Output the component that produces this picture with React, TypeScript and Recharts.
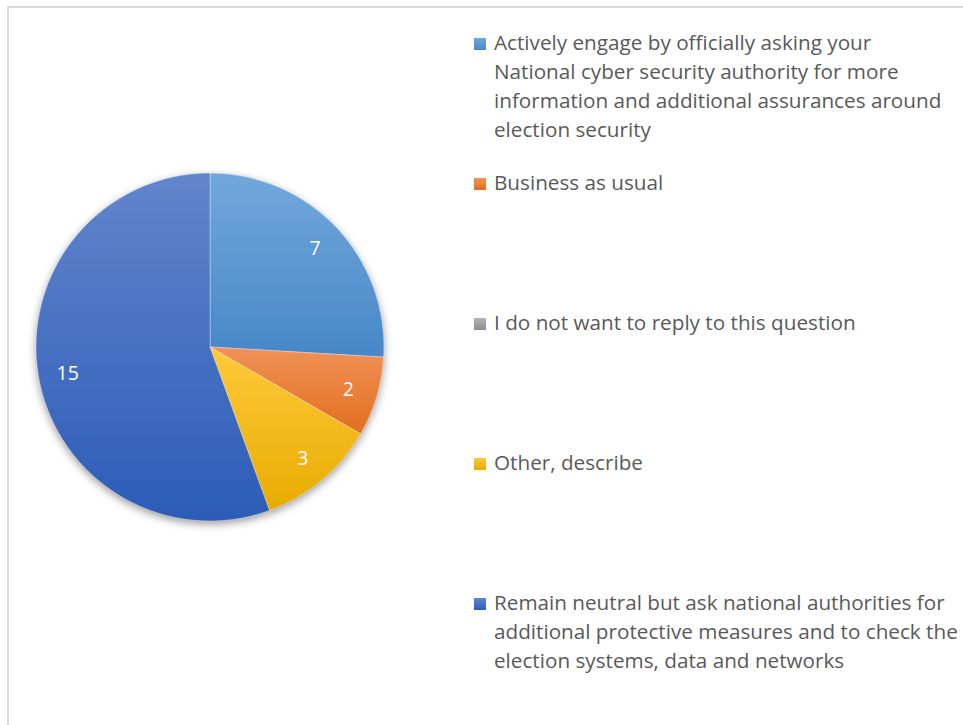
import React from "react";
import { PieChart, Pie, Cell, Legend } from "recharts";

// answers and counts
const categories = [
  "Actively engage by officially asking your National cyber security authority for more information and additional assurances around election security",
  "Business as usual",
  "I do not want to reply to this question",
  "Other, describe",
  "Remain neutral but ask national authorities for additional protective measures and to check the election systems, data and networks",
];
const values = [7, 2, 0, 3, 15];

// legend text as wrapped in the original
const legendLines = [
  [
    "Actively engage by officially asking your",
    "National cyber security authority for more",
    "information and additional assurances around",
    "election security",
  ],
  ["Business as usual"],
  ["I do not want to reply to this question"],
  ["Other, describe"],
  [
    "Remain neutral but ask national authorities for",
    "additional protective measures and to check the",
    "election systems, data and networks",
  ],
];

const gradients = [
  ["#72a8dc", "#4787c7"],
  ["#f19158", "#e26f1d"],
  ["#b4b4b4", "#8f8f8f"],
  ["#ffca3a", "#e8ab00"],
  ["#6285cc", "#2c5cb7"],
];

const data = categories.map((name, i) => ({ name, value: values[i] }));

const RAD = Math.PI / 180;
const FONT = "'Open Sans', Lato, sans-serif";

function renderLabel(props: any) {
  const { cx, cy, midAngle, outerRadius, value } = props;
  if (!value) return null;
  const r = outerRadius * 0.83;
  const x = cx + r * Math.cos(-midAngle * RAD);
  const y = cy + r * Math.sin(-midAngle * RAD);
  return (
    <text
      x={x}
      y={y}
      fill="#ffffff"
      fontSize={19.5}
      fontFamily={FONT}
      textAnchor="middle"
      dominantBaseline="central"
    >
      {value}
    </text>
  );
}

const legendTops = [28, 168, 308, 448, 588];

function renderLegend() {
  return (
    <div style={{ position: "relative", width: 480, height: 725 }}>
      {legendLines.map((lines, i) => (
        <div
          key={i}
          style={{
            position: "absolute",
            left: 0,
            top: legendTops[i],
            fontFamily: FONT,
            fontSize: 20.7,
            lineHeight: "29px",
            color: "#595959",
            whiteSpace: "nowrap",
          }}
        >
          <span
            style={{
              position: "absolute",
              left: 0,
              top: 10,
              width: 12,
              height: 12,
              background: `linear-gradient(${gradients[i][0]}, ${gradients[i][1]})`,
            }}
          />
          <div style={{ marginLeft: 20 }}>
            {lines.map((l, j) => (
              <div key={j}>{l}</div>
            ))}
          </div>
        </div>
      ))}
    </div>
  );
}

export default function App() {
  return (
    <div
      style={{
        position: "fixed",
        left: 0,
        top: 0,
        width: 963,
        height: 725,
        overflow: "hidden",
        background: "#ffffff",
      }}
    >
      <div
        style={{
          position: "absolute",
          left: 7,
          top: 6,
          width: 1000,
          height: 1000,
          border: "2px solid #d9d9d9",
        }}
      />
      <div style={{ position: "absolute", left: 0, top: 0 }}>
        <PieChart width={963} height={725}>
          <defs>
            {gradients.map((g, i) => (
              <linearGradient key={i} id={`g${i}`} x1="0" y1="0" x2="0" y2="1">
                <stop offset="0%" stopColor={g[0]} />
                <stop offset="100%" stopColor={g[1]} />
              </linearGradient>
            ))}
            <filter id="shadow" x="-20%" y="-20%" width="140%" height="140%">
              <feGaussianBlur stdDeviation="4" />
            </filter>
          </defs>
          {/* shadow under the pie */}
          <Pie
            data={data}
            dataKey="value"
            cx={205}
            cy={345}
            outerRadius={174}
            startAngle={90}
            endAngle={-270}
            stroke="none"
            fill="#000000"
            fillOpacity={0.4}
            filter="url(#shadow)"
            legendType="none"
            isAnimationActive={false}
          />
          <Pie
            data={data}
            dataKey="value"
            cx={205}
            cy={342}
            outerRadius={174}
            startAngle={90}
            endAngle={-270}
            stroke="rgba(255,255,255,0.35)"
            strokeWidth={1}
            label={renderLabel}
            labelLine={false}
            isAnimationActive={false}
          >
            {data.map((d, i) => (
              <Cell key={d.name} fill={`url(#g${i})`} />
            ))}
          </Pie>
          <Legend
            content={renderLegend}
            wrapperStyle={{ position: "absolute", left: 474, top: 0, width: 480, height: 725 }}
          />
        </PieChart>
      </div>
    </div>
  );
}
